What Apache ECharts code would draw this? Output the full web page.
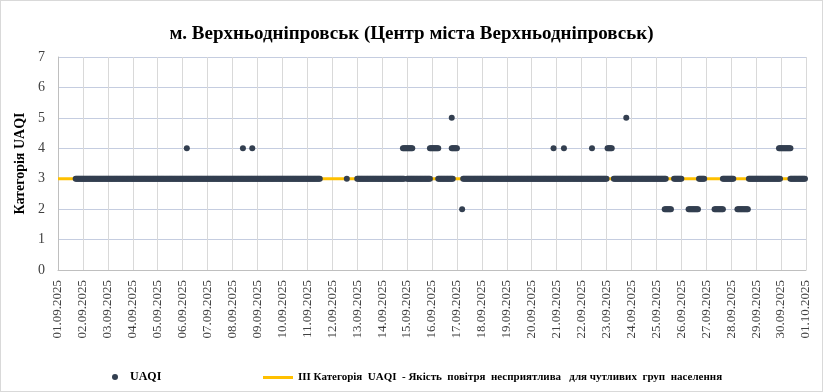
<!DOCTYPE html>
<html><head><meta charset="utf-8">
<script src="https://cdn.jsdelivr.net/npm/echarts@6/dist/echarts.min.js"></script>
<style>html,body{margin:0;padding:0;background:#fff}#c{width:823px;height:392px;box-sizing:border-box;border:1px solid #d9d9d9}</style>
</head><body><div id="c"></div>
<script>
// Tick labels (one per day, x in hours from 01.09.2025 00:00)
const dateLabels = ['01.09.2025','02.09.2025','03.09.2025','04.09.2025','05.09.2025','06.09.2025','07.09.2025','08.09.2025','09.09.2025','10.09.2025','11.09.2025','12.09.2025','13.09.2025','14.09.2025','15.09.2025','16.09.2025','17.09.2025','18.09.2025','19.09.2025','20.09.2025','21.09.2025','22.09.2025','23.09.2025','24.09.2025','25.09.2025','26.09.2025','27.09.2025','28.09.2025','29.09.2025','30.09.2025','01.10.2025'];
// Hourly UAQI readings, as runs [firstHour, lastHour] of each category
const uaqi2Runs = [[389,389],[584,590],[607,616],[632,640],[654,664]];
const uaqi3Runs = [[17,252],[278,278],[288,333],[336,358],[366,380],[390,528],[535,585],[593,600],[617,622],[640,650],[665,695],[705,719]];
const uaqi4Runs = [[124,124],[178,178],[187,187],[332,341],[358,366],[379,384],[477,477],[487,487],[514,514],[529,533],[694,705]];
const uaqi5Runs = [[379,379],[547,547]];
const thresholdLevel = 3;
const seriesNames = ['UAQI', 'III Категорія  UAQI  - Якість  повітря  несприятлива   для чутливих  груп  населення'];

function expand(runs, v) {
  const out = [];
  runs.forEach(([a, b]) => { for (let h = a; h <= b; h++) out.push([h, v]); });
  return out;
}
const uaqiData = [].concat(expand(uaqi3Runs,3), expand(uaqi4Runs,4), expand(uaqi5Runs,5), expand(uaqi2Runs,2));
const maxHour = (dateLabels.length - 1) * 24;

const chart = echarts.init(document.getElementById('c'));
const serif = 'Liberation Serif, Times New Roman, serif';
chart.setOption({
  animation: false,
  title: {
    text: 'м. Верхньодніпровськ (Центр міста Верхньодніпровськ)',
    left: 'center', top: 19,
    textStyle: { fontFamily: serif, fontWeight: 'bold', fontSize: 19, color: '#000' }
  },
  legend: [
    { data: [seriesNames[0]], left: 106, top: 365, itemWidth: 20, itemHeight: 6, itemGap: 0,
      textStyle: { fontFamily: serif, fontWeight: 'bold', fontSize: 12, color: '#000' } },
    { data: [{ name: seriesNames[1], icon: 'rect' }], left: 257, top: 366, itemWidth: 30, itemHeight: 3,
      textStyle: { fontFamily: serif, fontWeight: 'bold', fontSize: 11, color: '#000' } }
  ],
  grid: { left: 57, right: 16, top: 56, bottom: 121 },
  xAxis: {
    type: 'value', min: 0, max: maxHour, interval: 24,
    axisLine: { show: true, lineStyle: { color: '#bfbfbf' } },
    axisTick: { show: false },
    splitLine: { show: true, lineStyle: { color: '#d9d9d9' } },
    axisLabel: { rotate: 90, margin: 10, fontFamily: serif, fontSize: 13, color: '#404040',
      formatter: v => dateLabels[Math.round(v / 24)] || '' }
  },
  yAxis: {
    type: 'value', min: 0, max: 7, interval: 1,
    name: 'Категорія UAQI', nameLocation: 'middle', nameGap: 28, nameRotate: 90,
    nameTextStyle: { fontFamily: serif, fontWeight: 'bold', fontSize: 14, color: '#000' },
    axisLine: { show: true, lineStyle: { color: '#bfbfbf' } },
    axisTick: { show: false },
    splitLine: { lineStyle: { color: '#c5cde0' } },
    axisLabel: { fontFamily: serif, fontSize: 14, color: '#404040', margin: 13 }
  },
  series: [
    { name: seriesNames[1], type: 'line', data: [[0, thresholdLevel], [maxHour, thresholdLevel]],
      symbol: 'none', lineStyle: { color: '#ffc000', width: 3 }, itemStyle: { color: '#ffc000' }, z: 1 },
    { name: seriesNames[0], type: 'scatter', data: uaqiData, symbolSize: 6,
      itemStyle: { color: '#333f50', opacity: 1 }, z: 2 }
  ]
});
</script></body></html>
